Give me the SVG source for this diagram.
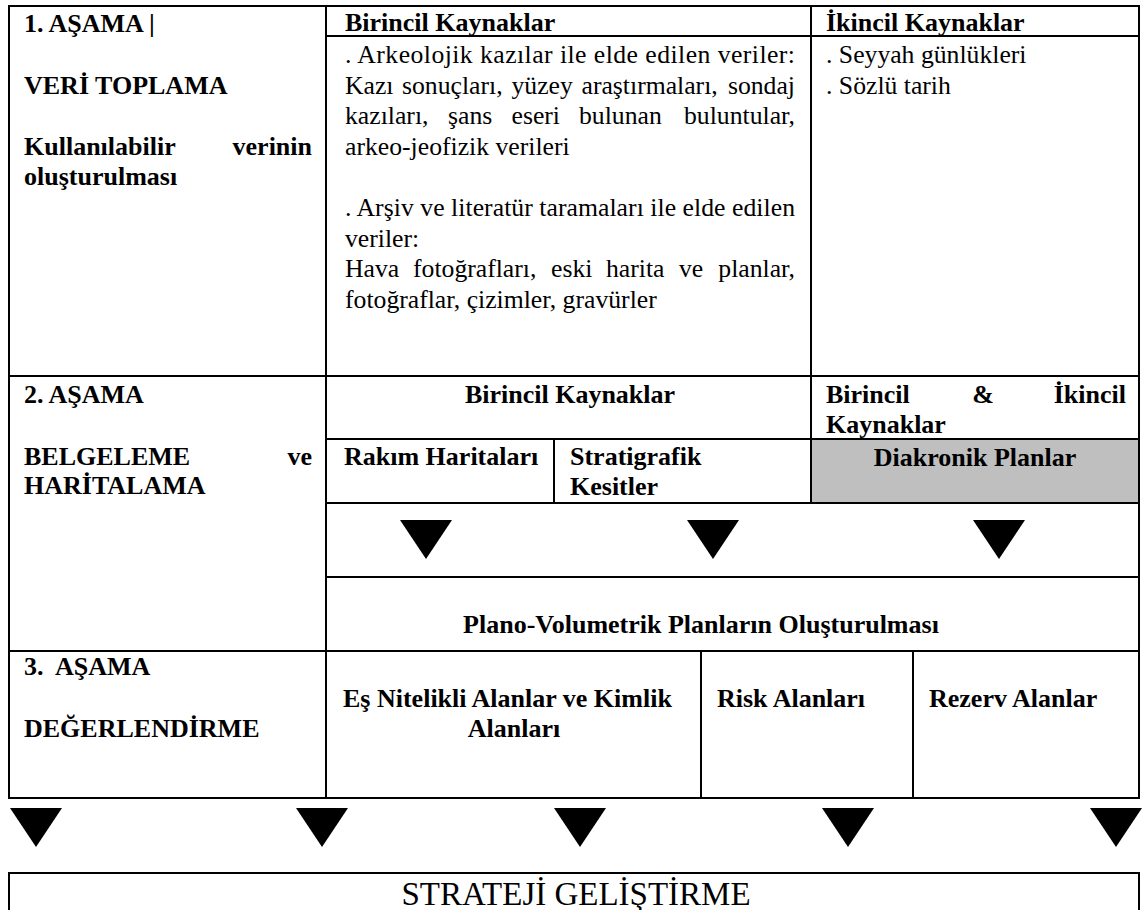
<svg xmlns="http://www.w3.org/2000/svg" xmlns:xlink="http://www.w3.org/1999/xlink" width="1143" height="910" viewBox="0 0 1143 910">
<style>
  .ln{stroke:#000;stroke-width:2;fill:none}
  .b{font-family:"Liberation Serif","Times New Roman",serif;font-size:26px;font-weight:bold;fill:#000}
  .r{font-family:"Liberation Serif","Times New Roman",serif;font-size:25.7px;fill:#000}
  .s{font-family:"Liberation Serif","Times New Roman",serif;font-size:33px;fill:#000}
  .pre{white-space:pre}
</style>
<defs>
  <path id="tri" d="M-26,0 L26,0 L0,39 Z" fill="#000"/>
</defs>
<rect x="0" y="0" width="1143" height="910" fill="#fff"/>

<g id="table-grid">
  <rect x="811" y="439" width="328" height="64" fill="#bfbfbf"/>
  <rect class="ln" x="9" y="6" width="1130" height="792"/>
  <line class="ln" x1="326" y1="6" x2="326" y2="798"/>
  <line class="ln" x1="811" y1="6" x2="811" y2="503"/>
  <line class="ln" x1="326" y1="36" x2="1139" y2="36"/>
  <line class="ln" x1="9" y1="376" x2="1139" y2="376"/>
  <line class="ln" x1="326" y1="439" x2="1139" y2="439"/>
  <line class="ln" x1="554" y1="439" x2="554" y2="503"/>
  <line class="ln" x1="326" y1="503" x2="1139" y2="503"/>
  <line class="ln" x1="326" y1="577" x2="1139" y2="577"/>
  <line class="ln" x1="9" y1="651" x2="1139" y2="651"/>
  <line class="ln" x1="701" y1="651" x2="701" y2="798"/>
  <line class="ln" x1="913" y1="651" x2="913" y2="798"/>
</g>

<g id="stage1-label">
  <text class="b" x="24" y="32">1. AŞAMA |</text>
  <text class="b" x="24" y="94">VERİ TOPLAMA</text>
  <text class="b" x="24" y="155">Kullanılabilir</text>
  <text class="b" x="312" y="155" text-anchor="end">verinin</text>
  <text class="b" x="24" y="185">oluşturulması</text>
</g>

<g id="stage1-primary">
  <text class="b" x="345" y="31">Birincil Kaynaklar</text>
  <text class="r" x="345" y="63" textLength="450" lengthAdjust="spacing">. Arkeolojik kazılar ile elde edilen veriler:</text>
  <text class="r" y="94"><tspan x="345">Kazı</tspan><tspan x="402">sonuçları,</tspan><tspan x="511.5">yüzey</tspan><tspan x="581.5">araştırmaları,</tspan></text>
  <text class="r" x="795" y="94" text-anchor="end">sondaj</text>
  <text class="r" y="124"><tspan x="345">kazıları,</tspan><tspan x="448">şans</tspan><tspan x="511.5">eseri</tspan><tspan x="579">bulunan</tspan></text>
  <text class="r" x="795" y="124" text-anchor="end">buluntular,</text>
  <text class="r" x="345" y="155">arkeo-jeofizik verileri</text>
  <text class="r" x="345" y="216" textLength="450" lengthAdjust="spacing">. Arşiv ve literatür taramaları ile elde edilen</text>
  <text class="r" x="345" y="247">veriler:</text>
  <text class="r" y="277"><tspan x="345">Hava</tspan><tspan x="413">fotoğrafları,</tspan><tspan x="551">eski</tspan><tspan x="606">harita</tspan><tspan x="679">ve</tspan></text>
  <text class="r" x="795" y="277" text-anchor="end">planlar,</text>
  <text class="r" x="345" y="308">fotoğraflar, çizimler, gravürler</text>
</g>

<g id="stage1-secondary">
  <text class="b" x="826" y="31">İkincil Kaynaklar</text>
  <text class="r" x="826" y="63">. Seyyah günlükleri</text>
  <text class="r" x="826" y="94">. Sözlü tarih</text>
</g>

<g id="stage2-label">
  <text class="b" x="24" y="403">2. AŞAMA</text>
  <text class="b" x="24" y="465">BELGELEME</text>
  <text class="b" x="312" y="465" text-anchor="end">ve</text>
  <text class="b" x="24" y="494">HARİTALAMA</text>
</g>

<g id="stage2-primary">
  <text class="b" x="570" y="403" text-anchor="middle">Birincil Kaynaklar</text>
</g>

<g id="stage2-both">
  <text class="b" x="826" y="403">Birincil</text>
  <text class="b" x="983" y="403" text-anchor="middle">&amp;</text>
  <text class="b" x="1126" y="403" text-anchor="end">İkincil</text>
  <text class="b" x="826" y="433">Kaynaklar</text>
</g>

<g id="rakim">
  <text class="b" x="344" y="465">Rakım Haritaları</text>
</g>

<g id="stratigrafik">
  <text class="b" x="570" y="465">Stratigrafik</text>
  <text class="b" x="570" y="495">Kesitler</text>
</g>

<g id="diakronik">
  <text class="b" x="975" y="466" text-anchor="middle">Diakronik Planlar</text>
</g>

<g id="plano">
  <text class="b" x="701" y="633" text-anchor="middle">Plano-Volumetrik Planların Oluşturulması</text>
</g>

<g id="stage3-label">
  <text class="b pre" x="24" y="675">3.  AŞAMA</text>
  <text class="b" x="24" y="737">DEĞERLENDİRME</text>
</g>

<g id="es-nitelikli">
  <text class="b" x="343" y="707">Eş Nitelikli Alanlar ve Kimlik</text>
  <text class="b" x="514" y="737" text-anchor="middle">Alanları</text>
</g>

<g id="risk">
  <text class="b" x="717" y="707">Risk Alanları</text>
</g>

<g id="rezerv">
  <text class="b" x="929" y="707">Rezerv Alanlar</text>
</g>

<g id="strateji">
  <path class="ln" d="M9,915 L9,873 L1139,873 L1139,915" stroke-width="2.5"/>
  <text class="s" x="576" y="905" text-anchor="middle">STRATEJİ GELİŞTİRME</text>
</g>

<g id="connectors">
  <use xlink:href="#tri" x="426" y="520"/>
  <use xlink:href="#tri" x="713" y="520"/>
  <use xlink:href="#tri" x="999" y="520"/>
  <use xlink:href="#tri" x="36" y="808"/>
  <use xlink:href="#tri" x="322" y="808"/>
  <use xlink:href="#tri" x="580" y="808"/>
  <use xlink:href="#tri" x="848" y="808"/>
  <use xlink:href="#tri" x="1116" y="808"/>
</g>
</svg>
